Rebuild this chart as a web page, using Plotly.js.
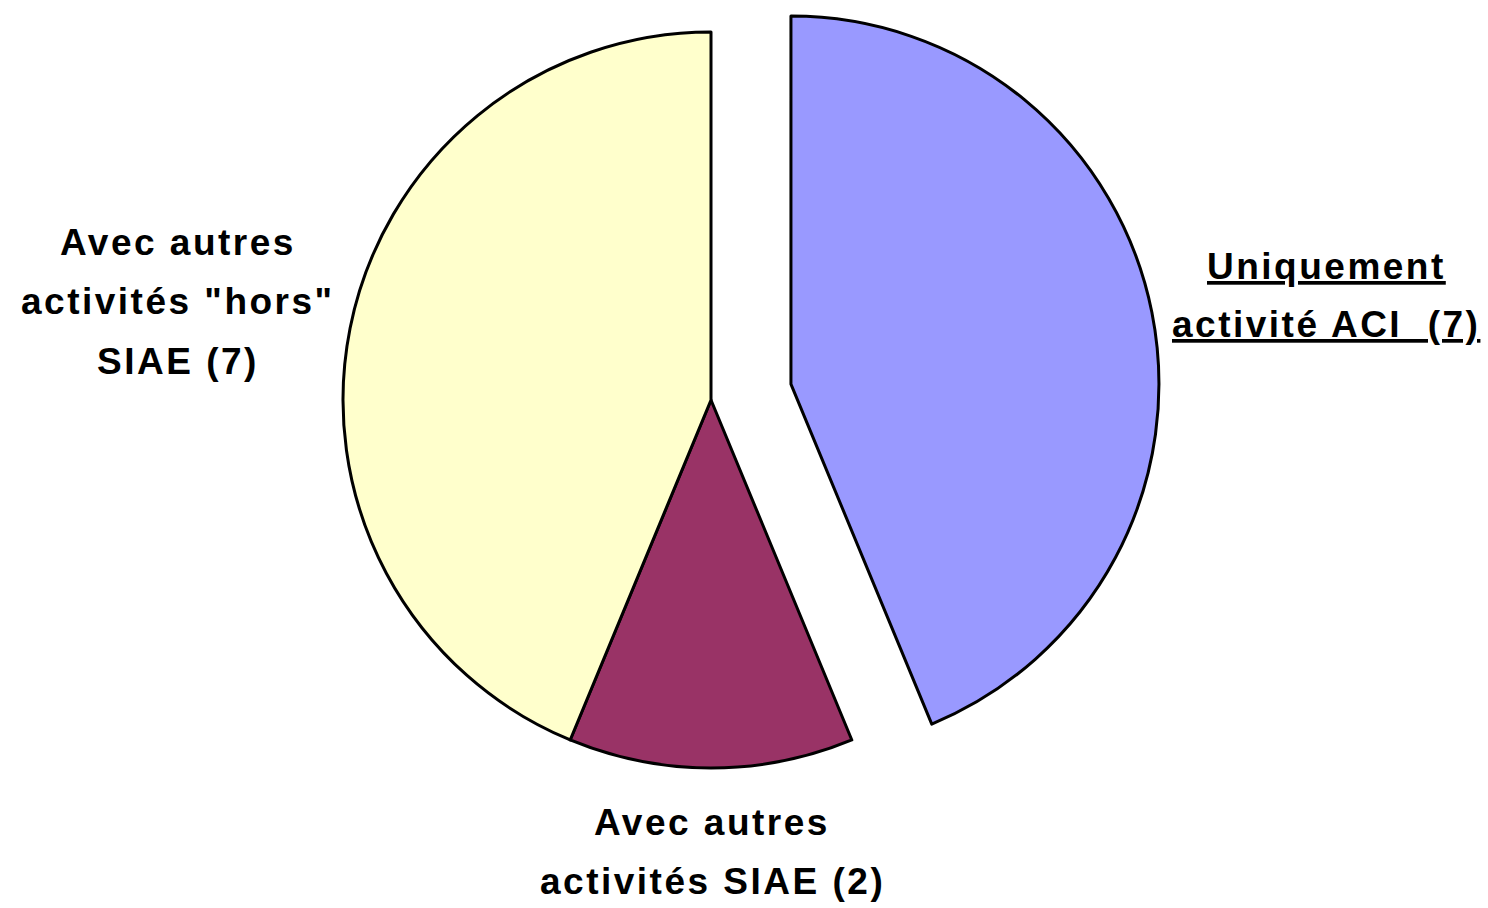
<!DOCTYPE html>
<html>
<head>
<meta charset="utf-8">
<script src="https://cdn.plot.ly/plotly-3.0.1.min.js"></script>
<style>
  html, body { margin: 0; padding: 0; overflow: hidden; background: #fff; width: 1488px; height: 908px; }
  #chart { position: absolute; left: 0; top: -60px; width: 1488px; height: 1000px; }
</style>
</head>
<body>
<div id="chart"></div>
<script>
// ---- data ----
const categories = ['Uniquement activité ACI', 'Avec autres activités SIAE', 'Avec autres activités "hors" SIAE'];
const counts = [7, 2, 7];
const sliceColors = ['#9999FF', '#993366', '#FFFFCC'];
const pulls = [0.2215, 0, 0];
// label text, one entry per line, per slice
const labelLines = [
  ['Uniquement', 'activité ACI  (7)'],
  ['Avec autres', 'activités SIAE (2)'],
  ['Avec autres', 'activités "hors"', 'SIAE (7)']
];
const underlined = [true, false, false];

// ---- layout helpers (screen pixel positions of label lines) ----
const W = 1488, H = 1000, OFF = 60;
const labelPos = [
  {x: 1326, y: [266, 324]},
  {x: 712, y: [822, 881]},
  {x: 178, y: [242, 301, 361]}
];

const annotations = [];
labelLines.forEach((lines, i) => {
  lines.forEach((line, j) => {
    let t = '<span style="letter-spacing:2.5px">' + line + '</span>';
    if (underlined[i]) t = '<u>' + t + '</u>';
    annotations.push({
      xref: 'paper', yref: 'paper',
      x: labelPos[i].x / W,
      y: 1 - (labelPos[i].y[j] + OFF) / H,
      xanchor: 'center', yanchor: 'middle',
      showarrow: false,
      text: t,
      font: {family: 'Arial, "Liberation Sans", sans-serif', size: 37, color: '#000', weight: 'bold'}
    });
  });
});

const trace = {
  type: 'pie',
  labels: categories,
  values: counts,
  sort: false,
  direction: 'clockwise',
  rotation: 0,
  pull: pulls,
  marker: {colors: sliceColors, line: {color: '#000', width: 3}},
  textinfo: 'none',
  hoverinfo: 'label+value',
  showlegend: false,
  domain: {x: [251 / W, 1171 / W], y: [1 - 909.5 / H, 1 - 10.5 / H]}
};

const layout = {
  width: W, height: H,
  margin: {l: 0, r: 0, t: 0, b: 0},
  paper_bgcolor: '#fff',
  plot_bgcolor: '#fff',
  showlegend: false,
  annotations: annotations
};

Plotly.newPlot('chart', [trace], layout, {displayModeBar: false, staticPlot: true});
</script>
</body>
</html>
